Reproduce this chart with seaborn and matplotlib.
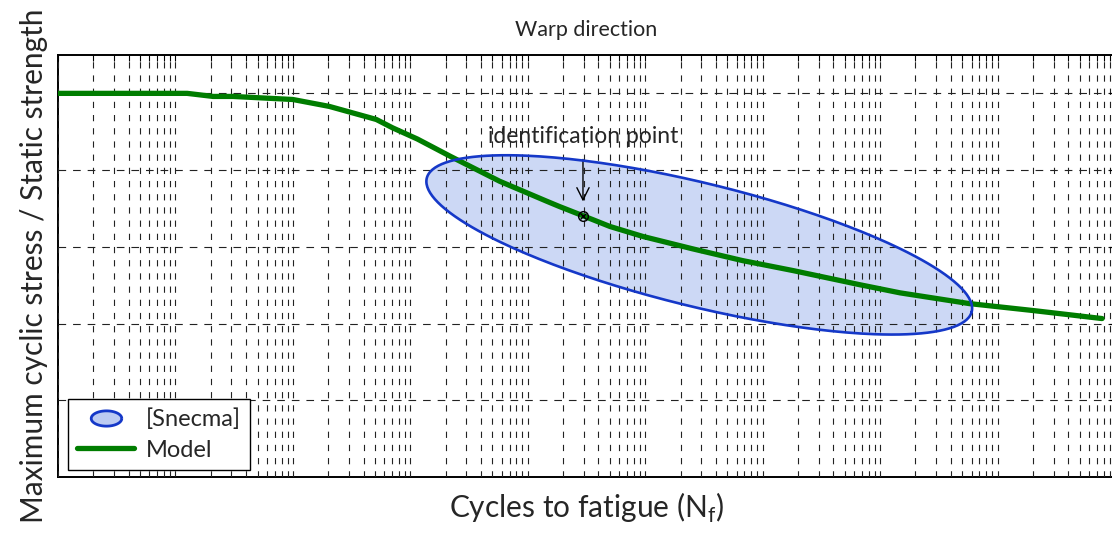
import numpy as np
import pandas as pd
import matplotlib
matplotlib.use("Agg")
import matplotlib.pyplot as plt
import seaborn as sns
from matplotlib.lines import Line2D
from matplotlib.path import Path

# Model curve (log10 of cycles, stress ratio)
model_log_n = [0.0, 1.10, 1.32, 1.49, 2.00, 2.31, 2.71, 2.85, 3.06, 3.34, 3.76,
               4.16, 4.27, 4.47, 4.70, 4.98, 5.40, 5.83, 6.26, 6.83, 7.17, 7.76,
               8.30, 8.89]
model_ratio = [1.0, 1.0, 0.992, 0.992, 0.984, 0.966, 0.932, 0.910, 0.881, 0.836, 0.771,
               0.719, 0.705, 0.681, 0.653, 0.627, 0.595, 0.564, 0.538, 0.501, 0.480, 0.452,
               0.434, 0.413]

# identification point
ident_log_n = 4.47
ident_ratio = 0.681

# [Snecma] scatter band: centre and the two half-axis vectors (decades, ratio)
snecma_center = (5.46, 0.605)
snecma_major = (2.32, -0.174)
snecma_minor = (-0.126, -0.156)

x_min, x_max = 1e0, 1e9
y_min, y_max = 0.0, 1.1
y_grid = [0.2, 0.4, 0.6, 0.8, 1.0]

sns.set_style("white")
plt.rcParams['font.family'] = ['Lato', 'DejaVu Sans']
plt.rcParams['lines.scale_dashes'] = False

fig = plt.figure(figsize=(11.12, 5.34), dpi=100)
ax = fig.add_axes([58 / 1112, 57 / 534, 1057 / 1112, 422 / 534])

# scatter band ellipse
t = np.linspace(0, 2 * np.pi, 300)
ell_x = snecma_center[0] + snecma_major[0] * np.cos(t) + snecma_minor[0] * np.sin(t)
ell_y = snecma_center[1] + snecma_major[1] * np.cos(t) + snecma_minor[1] * np.sin(t)
ax.fill(np.power(10, ell_x), ell_y, facecolor='#bccbf2', alpha=0.75,
        edgecolor='none', zorder=1)
ax.plot(np.power(10, ell_x), ell_y, color='#1538c8', lw=1.9, zorder=4)

model_df = pd.DataFrame({'cycles': np.power(10, model_log_n), 'ratio': model_ratio})
sns.lineplot(data=model_df, x='cycles', y='ratio', color='#007d00', lw=3.8,
             ax=ax, zorder=3, legend=False)

ax.set_xscale('log')
ax.set_xlim(x_min, x_max)
ax.set_ylim(y_min, y_max)
ax.set_yticks(y_grid)
ax.xaxis.set_major_locator(matplotlib.ticker.LogLocator(base=10, numticks=20))
ax.xaxis.set_minor_locator(matplotlib.ticker.LogLocator(base=10, subs=np.arange(2, 10), numticks=20))
ax.tick_params(which='both', direction='in', top=True, right=True,
               labelbottom=False, labelleft=False, length=4, width=0.8, color='black')
ax.grid(True, which='both', axis='x', color='#222222', lw=0.8, linestyle=(0, (4.5, 5.0)))
ax.grid(True, which='major', axis='y', color='#222222', lw=0.8, linestyle=(0, (5.5, 5.0)))
ax.set_axisbelow(False)
for s in ax.spines.values():
    s.set_color('black')
    s.set_linewidth(1.4)

# identification point
xp = 10 ** ident_log_n
ax.plot([xp], [ident_ratio], marker='o', mfc='none', mec='black', ms=7, mew=1, zorder=5)
ax.plot([xp], [ident_ratio], marker='x', color='black', ms=4.5, mew=1, zorder=5)
ax.annotate('', xy=(xp, ident_ratio + 0.03), xytext=(xp, 0.835),
            arrowprops=dict(arrowstyle='->', lw=1, color='black', mutation_scale=22))
ax.text(xp, 0.888, 'identification point', ha='center', va='center', fontsize=16.5)

ax.set_title('Warp direction', fontsize=15.5, pad=14)
ax.set_xlabel('Cycles to fatigue (N$_\\mathregular{f}$)', fontsize=21.5, labelpad=10)
ax.set_ylabel('Maximum cyclic stress / Static strength', fontsize=21.5, labelpad=7)

ell_verts = [(np.cos(a), 0.5 * np.sin(a)) for a in np.linspace(0, 2 * np.pi, 60)]
ell_marker = Path(ell_verts)
handles = [
    Line2D([], [], linestyle='none', marker=ell_marker, ms=22, mfc='#bccbf2',
           mec='#1538c8', mew=2),
    Line2D([], [], color='#007d00', lw=3.8),
]
leg = ax.legend(handles, ['[Snecma]', 'Model'], loc='lower left',
                bbox_to_anchor=(0.0095, 0.0166), borderaxespad=0, fontsize=17,
                fancybox=False, framealpha=1, edgecolor='black', handlelength=2.4,
                handletextpad=0.5, borderpad=0.4, labelspacing=0.4)
leg.get_frame().set_linewidth(1)

fig.savefig('out.png', dpi=100)
